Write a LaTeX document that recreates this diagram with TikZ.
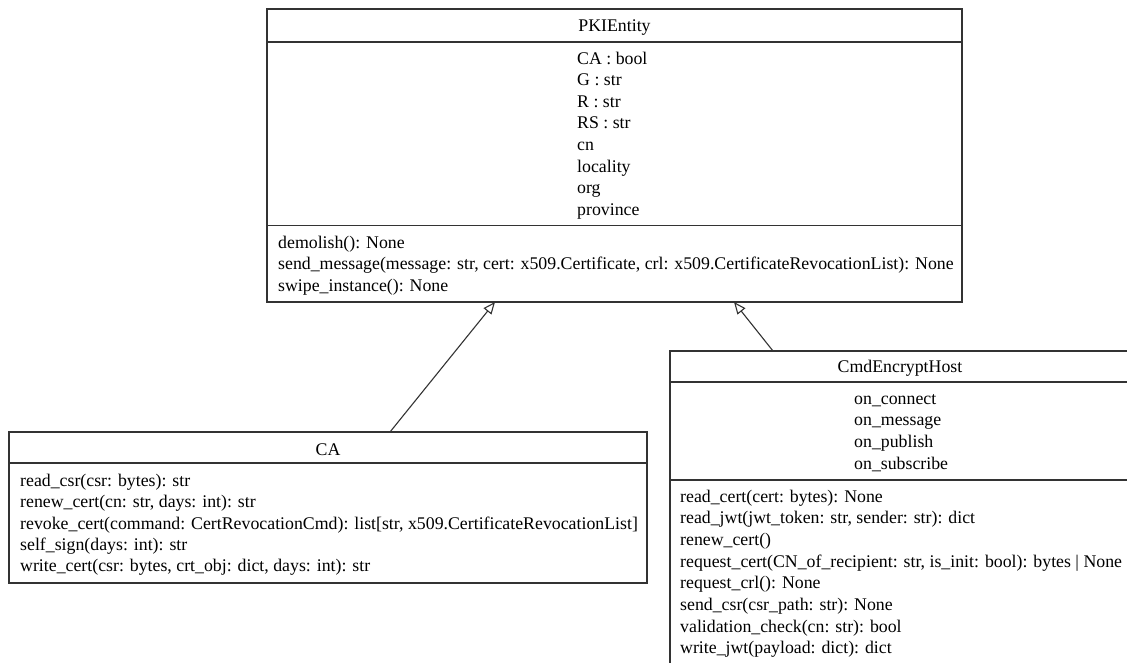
\documentclass[tikz,border=0pt]{standalone}
\usepackage{fontspec}
\setmainfont{Liberation Serif}[Ligatures=CommonOff]
\usetikzlibrary{arrows.meta,calc}
\begin{document}
\begin{tikzpicture}[x=1pt,y=-1pt,
  box/.style={draw=black!80, line width=1.2pt, fill=white, rectangle,
    inner sep=0pt, outer sep=0pt, anchor=north west},
  rule/.style={draw=black!80, line width=1.2pt},
  txt/.style={inner sep=0pt, font=\fontsize{17.8}{21.6}\selectfont, text=black},
  inh/.style={draw=black!80, line width=1.1pt,
    -{Triangle[open, length=12pt, width=10pt, fill=white]}}]

\fill[white] (0,0) rectangle (1127,662);
\useasboundingbox (0,0) rectangle (1127,662);
\clip (0,0) rectangle (1127,662);

% class boxes
\node[box, minimum width=695pt, minimum height=293pt] (pki) at (267,9) {};
\node[box, minimum width=638pt, minimum height=151pt] (ca) at (9,432) {};
\node[box, minimum width=460pt, minimum height=340pt] (cmd) at (670,351) {};

% compartment rules
\draw[rule] ($(pki.north west)+(0,33)$) -- ($(pki.north east)+(0,33)$);
\draw[rule] ($(pki.north west)+(0,216.5)$) -- ($(pki.north east)+(0,216.5)$);
\draw[rule] ($(ca.north west)+(0,31)$) -- ($(ca.north east)+(0,31)$);
\draw[rule] ($(cmd.north west)+(0,31)$) -- ($(cmd.north east)+(0,31)$);
\draw[rule] ($(cmd.north west)+(0,129)$) -- ($(cmd.north east)+(0,129)$);

% PKIEntity
\node[txt, anchor=base] (pkiT) at (614.5,31) {PKIEntity};
\foreach \t [count=\i] in {CA : bool, G : str, R : str, RS : str, cn, locality, org, province}
  \node[txt, anchor=base west] (pkiA\i) at (577,{64+21.6*(\i-1)}) {\t};
\foreach \t [count=\i] in {{demolish(): None},
  {send\_message(message: str, cert: x509.Certificate, crl: x509.CertificateRevocationList): None},
  {swipe\_instance(): None}}
  \node[txt, anchor=base west] (pkiM\i) at (278,{248+21.6*(\i-1)}) {\t};

% CA
\node[txt, anchor=base] (caT) at (328,455) {CA};
\foreach \t [count=\i] in {{read\_csr(csr: bytes): str},
  {renew\_cert(cn: str, days: int): str},
  {revoke\_cert(command: CertRevocationCmd): list[str, x509.CertificateRevocationList]},
  {self\_sign(days: int): str},
  {write\_cert(csr: bytes, crt\_obj: dict, days: int): str}}
  \node[txt, anchor=base west] (caM\i) at (20,{486.5+21.3*(\i-1)}) {\t};

% CmdEncryptHost
\node[txt, anchor=base] (cmdT) at (900,372) {CmdEncryptHost};
\foreach \t [count=\i] in {on\_connect, on\_message, on\_publish, on\_subscribe}
  \node[txt, anchor=base west] (cmdA\i) at (854,{404+21.7*(\i-1)}) {\t};
\foreach \t [count=\i] in {{read\_cert(cert: bytes): None},
  {read\_jwt(jwt\_token: str, sender: str): dict},
  {renew\_cert()},
  {request\_cert(CN\_of\_recipient: str, is\_init: bool): bytes | None},
  {request\_crl(): None},
  {send\_csr(csr\_path: str): None},
  {validation\_check(cn: str): bool},
  {write\_jwt(payload: dict): dict}}
  \node[txt, anchor=base west] (cmdM\i) at (680,{502+21.7*(\i-1)}) {\t};

% generalisation arrows
\draw[inh] ($(ca.north west)+(381,0)$) -- ($(pki.south west)+(228,0)$);
\draw[inh] ($(cmd.north west)+(103,0)$) -- ($(pki.south west)+(467,0)$);
\end{tikzpicture}
\end{document}
